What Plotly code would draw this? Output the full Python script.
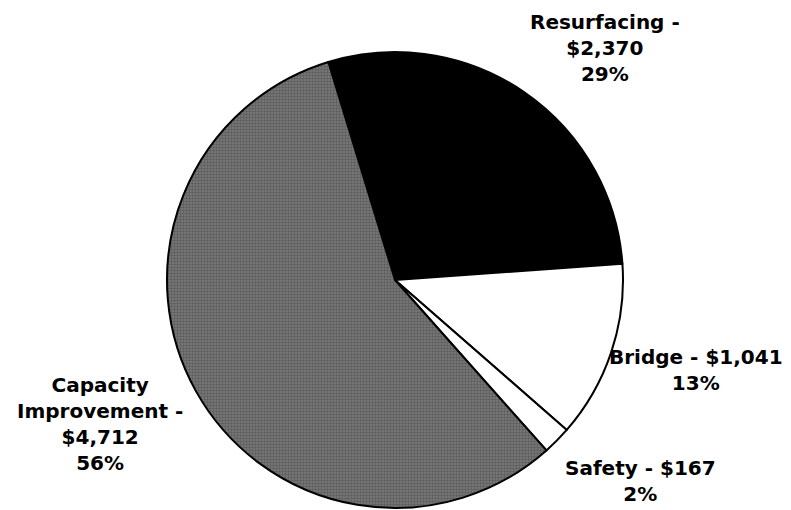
import plotly.graph_objects as go

categories = ["Resurfacing", "Bridge", "Safety", "Capacity Improvement"]
values = [2370, 1041, 167, 4712]
percents = ["29%", "13%", "2%", "56%"]
colors = ["#000000", "#ffffff", "#ffffff", "#6a6a6a"]

W, H = 791, 510
OFF = 8  # page body margin

fig = go.Figure()
fig.add_trace(go.Pie(
    labels=categories,
    values=values,
    sort=False,
    direction="clockwise",
    rotation=-17,
    textinfo="none",
    hoverinfo="label+value+percent",
    showlegend=False,
    marker=dict(
        colors=colors,
        line=dict(color="#000000", width=2),
        pattern=dict(shape=["", "", "", "."], fgcolor="#3c3c3c", bgcolor="#7c7c7c",
                     size=3, solidity=0.5, fillmode="overlay"),
    ),
    domain=dict(x=[(167 - OFF) / W, (623 - OFF) / W],
                y=[1 - (508 - OFF) / H, 1 - (52 - OFF) / H]),
))

font = dict(family="DejaVu Sans", size=20, color="#000000")
label_text = [
    f"<b>{categories[0]} -<br>${values[0]:,}<br>{percents[0]}</b>",
    f"<b>{categories[1]} - ${values[1]:,}<br>{percents[1]}</b>",
    f"<b>{categories[2]} - ${values[2]:,}<br>{percents[2]}</b>",
    f"<b>Capacity<br>Improvement -<br>${values[3]:,}<br>{percents[3]}</b>",
]
label_pos = [(605, 48), (696, 370), (640, 481), (100, 424)]
for t, (px, py) in zip(label_text, label_pos):
    fig.add_annotation(text=t, x=(px - OFF) / W, y=1 - (py - OFF) / H,
                       xref="paper", yref="paper",
                       showarrow=False, font=font, align="center",
                       xanchor="center", yanchor="middle")

fig.update_layout(width=W, height=H, margin=dict(l=0, r=0, t=0, b=0),
                  paper_bgcolor="#ffffff", plot_bgcolor="#ffffff")
fig.write_html("out.html")
